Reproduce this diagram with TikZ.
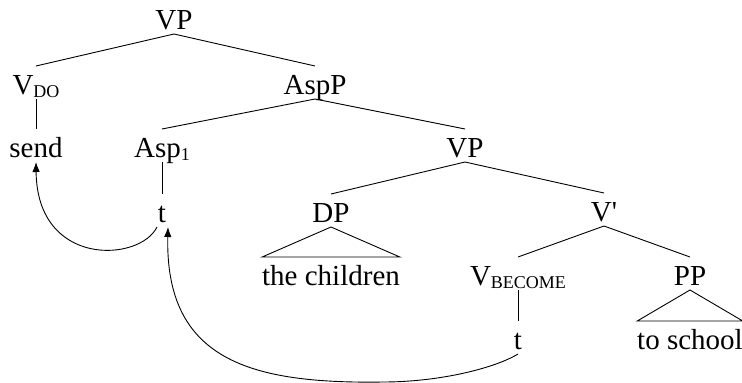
\documentclass[tikz,border=0pt]{standalone}
\usepackage{fontspec}
\setmainfont{Liberation Serif}
\usetikzlibrary{arrows.meta}
\newcommand{\lowsub}[1]{\raisebox{-3pt}{\fontsize{18}{18}\selectfont #1}}
\begin{document}
\begin{tikzpicture}[x=1pt,y=-1pt,
  lbl/.style={font=\fontsize{29}{29}\selectfont, inner sep=0pt, outer sep=0pt,
              text height=28pt, text depth=5pt, anchor=base},
  branch/.style={line width=0.9pt},
  move/.style={line width=0.9pt, -{Latex[length=10pt,width=7.5pt]}}]
\useasboundingbox (0,0) rectangle (742,383);
% tree labels, placed by baseline
\node[lbl] (VP)    at (174,29)  {VP};
\node[lbl] (VDO)   at (36,94)   {V\lowsub{DO}};
\node[lbl] (AspP)  at (315,94)  {AspP};
\node[lbl] (send)  at (36,157)  {send};
\node[lbl] (Asp)   at (162,157) {Asp\lowsub{1}};
\node[lbl] (VPb)   at (465,157) {VP};
\node[lbl] (t1)    at (162,222) {t};
\node[lbl] (DP)    at (331,222) {DP};
\node[lbl] (Vbar)  at (604,221) {V\textquotesingle};
\node[lbl] (child) at (331,285) {the children};
\node[lbl] (VBEC)  at (518,285) {V\lowsub{BECOME}};
\node[lbl] (PP)    at (690,285) {PP};
\node[lbl] (t2)    at (518,349) {t};
\node[lbl] (schl)  at (690,349) {to school};
% branches
\draw[branch] (VDO.north) -- (VP.south) -- (AspP.north);
\draw[branch] (VDO.south) -- (send.north);
\draw[branch] (Asp.north) -- (AspP.south) -- (VPb.north);
\draw[branch] (Asp.south) -- (t1.north);
\draw[branch] (DP.north) -- (VPb.south) -- (Vbar.north);
\draw[branch] (VBEC.north) -- (Vbar.south) -- (PP.north);
\draw[branch] (VBEC.south) -- (t2.north);
% triangles over unanalysed phrases
\draw[branch] (DP.south) -- (child.north west) -- (child.north east) -- cycle;
\draw[branch] (PP.south) -- (schl.north west) -- (schl.north east) -- cycle;
% movement arrows
\draw[move] ([xshift=-5pt]t1.south) .. controls (140,262) and (37,268) .. (send.south);
\draw[move] (t2.south) .. controls (495,368) and (440,382) .. (383,382)
            .. controls (250,384) and (165,360) .. ([xshift=6pt]t1.south);
\end{tikzpicture}
\end{document}
